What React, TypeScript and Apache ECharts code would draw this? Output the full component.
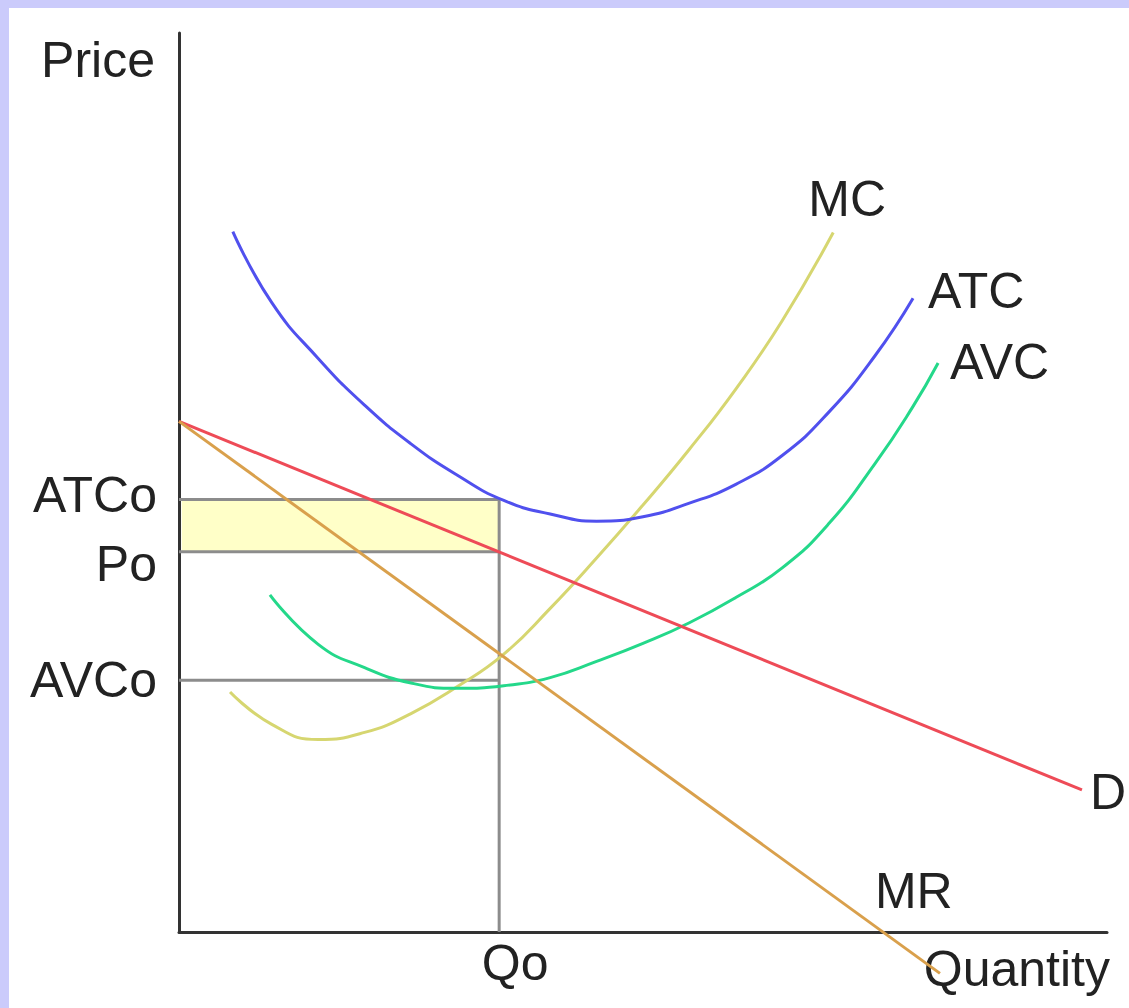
import React, { useEffect, useRef } from 'react';
import * as echarts from 'echarts';

// Equilibrium values (quantity 0..100, price 0..100)
const Q0 = 34.5;
const ATC0 = 48.1;
const P0 = 42.3;
const AVC0 = 28.0;

const yTickValues = [AVC0, P0, ATC0];
const yTickLabels = ['AVCo', 'Po', 'ATCo'];
const xTickValues = [Q0];
const xTickLabels = ['Qo'];

const mcData: number[][] = [
  [5.5, 26.7], [10, 23.1], [15, 21.4], [20, 22.2], [25, 24.3], [30, 27.3], [35, 30.9],
  [40, 36.0], [45, 41.6], [50, 47.5], [55, 53.7], [60, 60.4], [65, 68.0], [70.5, 77.8],
];
const atcData: number[][] = [
  [5.8, 77.9], [10, 70.0], [15, 63.8], [20, 58.6], [25, 54.3], [30, 50.8], [35, 48.0],
  [40, 46.5], [45, 45.7], [50, 46.2], [55, 47.7], [60, 49.8], [65, 53.0], [70, 57.8],
  [75, 64.1], [79.1, 70.5],
];
const avcData: number[][] = [
  [9.8, 37.5], [15, 32.0], [20, 29.4], [25, 27.7], [30, 27.1], [35, 27.4], [40, 28.3],
  [45, 30.1], [50, 32.1], [55, 34.4], [60, 37.2], [65, 40.5], [70, 45.4], [75, 52.1],
  [79, 58.3], [81.8, 63.3],
];
const demandData: number[][] = [[0, 56.8], [97.3, 15.8]];
const mrData: number[][] = [[0, 56.8], [82.0, -4.6]];

const FONT = "'Liberation Sans', Arial, Helvetica, sans-serif";
const TEXT = '#222222';
const FS = 50;

export default function App() {
  const ref = useRef<HTMLDivElement>(null);

  useEffect(() => {
    const chart = echarts.init(ref.current!, null, { renderer: 'svg' });

    const curve = (name: string, data: number[][], color: string, smooth: number | boolean, offset: number[]) => ({
      type: 'line',
      name,
      data,
      smooth,
      symbol: 'none',
      showSymbol: false,
      clip: false,
      silent: true,
      z: 3,
      lineStyle: { color, width: 3 },
      emphasis: { disabled: true },
      endLabel: {
        show: true,
        formatter: name,
        distance: 0,
        offset,
        align: 'left',
        verticalAlign: 'middle',
        fontSize: FS,
        fontFamily: FONT,
        color: TEXT,
      },
    });

    const guide = (data: number[][]) => ({
      type: 'line',
      data,
      symbol: 'none',
      silent: true,
      z: 2,
      lineStyle: { color: '#8c8c8c', width: 3 },
      emphasis: { disabled: true },
    });

    const richBase = { fontSize: FS, fontFamily: FONT, color: TEXT };

    const option: any = {
      animation: false,
      backgroundColor: 'transparent',
      grid: { left: 179, top: 33, width: 928, height: 899, containLabel: false, outerBoundsMode: 'none' },
      xAxis: {
        type: 'value',
        min: 0,
        max: 100,
        name: 'Quantity',
        nameLocation: 'end',
        nameGap: 3,
        nameMoveOverlap: false,
        nameTextStyle: {
          fontSize: FS, fontFamily: FONT, color: TEXT,
          align: 'right', verticalAlign: 'top', padding: [12, 0, 0, 0],
        },
        axisLine: { show: true, onZero: true, lineStyle: { color: '#333', width: 3 } },
        axisTick: { show: false },
        splitLine: { show: false },
        axisLabel: {
          customValues: xTickValues,
          margin: 6,
          formatter: (v: number) => `{q|${xTickLabels[xTickValues.indexOf(v)] ?? ''}}`,
          rich: { q: { ...richBase, padding: [0, 0, 0, 32] } },
        },
      },
      yAxis: {
        type: 'value',
        min: 0,
        max: 100,
        name: 'Price',
        nameLocation: 'end',
        nameGap: -27,
        nameMoveOverlap: false,
        nameTextStyle: {
          fontSize: FS, fontFamily: FONT, color: TEXT,
          align: 'right', verticalAlign: 'middle', padding: [0, 24, 0, 0],
        },
        axisLine: { show: true, onZero: true, lineStyle: { color: '#333', width: 3 } },
        axisTick: { show: false },
        splitLine: { show: false },
        axisLabel: {
          customValues: yTickValues,
          margin: 22,
          formatter: (v: number) => {
            const t = yTickLabels[yTickValues.indexOf(v)] ?? '';
            return `{${t}|${t}}`;
          },
          rich: {
            ATCo: { ...richBase, padding: [0, 0, 10, 0] },
            Po: { ...richBase, padding: [24, 0, 0, 0] },
            AVCo: { ...richBase },
          },
        },
      },
      series: [
        {
          type: 'line',
          data: [],
          silent: true,
          z: 1,
          markArea: {
            silent: true,
            itemStyle: { color: '#ffffc8' },
            data: [[{ coord: [0.3, P0] }, { coord: [Q0, ATC0] }]],
          },
        },
        guide([[0, ATC0], [Q0, ATC0], [Q0, 0]]),
        guide([[0, P0], [Q0, P0]]),
        guide([[0, AVC0], [Q0, AVC0]]),
        curve('MC', mcData, '#d6d670', 0.5, [-25, -34]),
        curve('ATC', atcData, '#5050ee', 0.5, [15, -7]),
        curve('AVC', avcData, '#24d88a', 0.5, [12, -1]),
        curve('D', demandData, '#ee4b57', false, [8, 2]),
        curve('MR', mrData, '#d9a04c', false, [-65, -82]),
      ],
    };

    chart.setOption(option);
    return () => chart.dispose();
  }, []);

  return (
    <div style={{ position: 'fixed', left: 0, top: 0, width: 1129, height: 1008, background: '#cbcbfb', overflow: 'hidden' }}>
      <div style={{ position: 'absolute', left: 9, top: 8, right: 0, bottom: 0, background: '#ffffff' }} />
      <div ref={ref} style={{ position: 'absolute', left: 0, top: 0, width: 1129, height: 1008 }} />
    </div>
  );
}
